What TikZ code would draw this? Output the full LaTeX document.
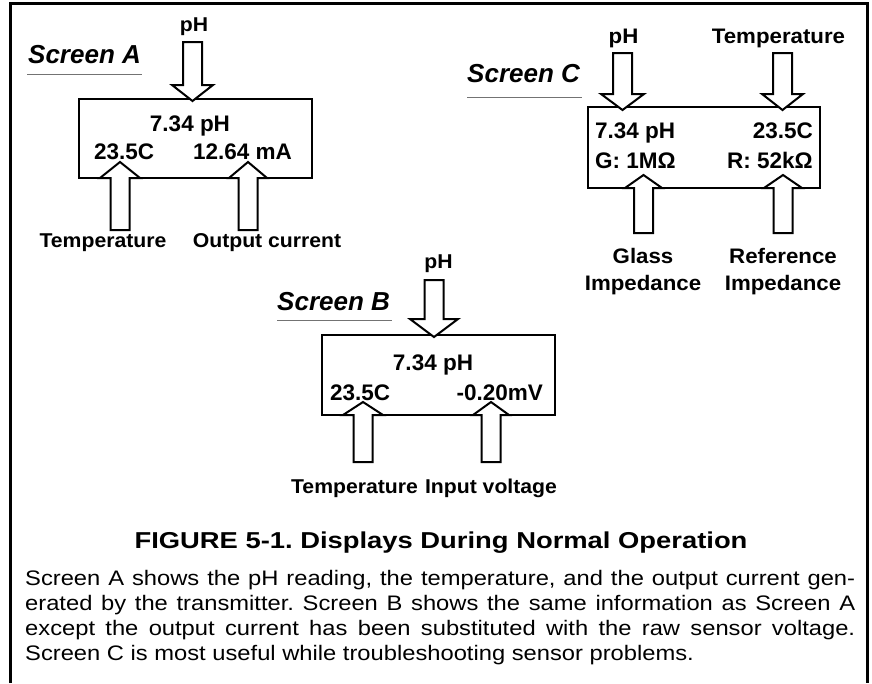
\documentclass[tikz,border=0pt]{standalone}
\usepackage{fontspec}
\setmainfont{Liberation Sans}
\newfontfamily\capfont{Liberation Sans}[FakeStretch=1.19]
\newfontfamily\bodyfont{Liberation Sans}[FakeStretch=1.13]
\newfontfamily\lblfont{Liberation Sans}[FakeStretch=1.06]
\usetikzlibrary{calc}
\frenchspacing
\tikzset{
  outerframe/.style={line width=3pt, line join=miter},
  screenbox/.style={draw, rectangle, line width=2.6pt, inner sep=0pt, fill=white},
  blk/.style={draw, fill=white, line width=2pt, line join=miter},
  lbl/.style={inner sep=0pt, font=\lblfont\fontsize{20}{24}\selectfont\bfseries},
  lblbig/.style={inner sep=0pt, font=\lblfont\fontsize{21}{25}\selectfont\bfseries},
  disp/.style={inner sep=0pt, font=\fontsize{22.5}{26}\selectfont\bfseries},
  scrtitle/.style={inner sep=0pt, font=\fontsize{26}{30}\selectfont\bfseries\itshape},
  uline/.style={line width=1pt, black!55},
  figcap/.style={inner sep=0pt, font=\capfont\fontsize{23}{27}\selectfont\bfseries},
  bodytext/.style={inner sep=0pt, font=\bodyfont\fontsize{21}{25}\selectfont},
}
% block arrow pointing down: tip, total length, head half width, head height
\newcommand{\blkdown}[4]{\draw[blk] (#1) -- ++(-#3,-#4) -- ++({#3-9.5},0) -- ++(0,{-(#2-#4)}) -- ++(19,0) -- ++(0,{#2-#4}) -- ++({#3-9.5},0) -- cycle;}
% block arrow pointing up
\newcommand{\blkup}[4]{\draw[blk] (#1) -- ++(-#3,#4) -- ++({#3-9.5},0) -- ++(0,{#2-#4}) -- ++(19,0) -- ++(0,{-(#2-#4)}) -- ++({#3-9.5},0) -- cycle;}
\begin{document}
\begin{tikzpicture}[x=1pt,y=-1pt]
\useasboundingbox (0,0) rectangle (872,683);
\fill[white] (0,0) rectangle (872,683);
\draw[outerframe] (10.5,683) -- (10.5,3.8) -- (867.5,3.8) -- (867.5,683);

% ---------- Screen A ----------
\node[scrtitle, anchor=base west] (scrA) at (28,63) {Screen A};
\draw[uline] (27,74) -- (142,74);
\node[screenbox, minimum width=233pt, minimum height=79pt] (boxA) at (195.5,138.5) {};
\node[lbl, anchor=base] (phA) at (194,31) {pH};
\node[lbl, anchor=base] (tempA) at (103,247) {Temperature};
\node[lbl, anchor=base] (outA) at (267,247) {Output current};
\node[disp, anchor=base] (dA1) at (190,131) {7.34 pH};
\node[disp, anchor=base west] (dA2) at (94,159) {23.5C};
\node[disp, anchor=base west] (dA3) at (193,159) {12.64 mA};
\coordinate (tA1) at (192.5,101);
\coordinate (tA2) at (120,162);
\coordinate (tA3) at (248,162);
\blkdown{tA1}{59}{20.5}{16}
\blkup{tA2}{68}{20}{16}
\blkup{tA3}{68}{19}{16}

% ---------- Screen C ----------
\node[scrtitle, anchor=base west] (scrC) at (467,82) {Screen C};
\draw[uline] (467,97) -- (582,97);
\node[screenbox, minimum width=232pt, minimum height=81pt] (boxC) at (704,147.5) {};
\node[lblbig, anchor=base] (phC) at (623.5,43) {pH};
\node[lblbig, anchor=base] (tempC) at (778.5,43) {Temperature};
\node[lblbig, anchor=base] (glC1) at (643,263) {Glass};
\node[lblbig, anchor=base] (glC2) at (643,290) {Impedance};
\node[lblbig, anchor=base] (refC1) at (783,263) {Reference};
\node[lblbig, anchor=base] (refC2) at (783,290) {Impedance};
\node[disp, anchor=base west] (dC1) at (595,138) {7.34 pH};
\node[disp, anchor=base east] (dC2) at (813,138) {23.5C};
\node[disp, anchor=base west] (dC3) at (595,168) {G: 1MΩ};
\node[disp, anchor=base east] (dC4) at (813,168) {R: 52kΩ};
\coordinate (tC1) at (622.5,110);
\coordinate (tC2) at (782.5,110);
\coordinate (tC3) at (643.5,175);
\coordinate (tC4) at (783,175);
\blkdown{tC1}{57}{21.5}{16}
\blkdown{tC2}{57}{20.5}{16}
\blkup{tC3}{58}{18.5}{13}
\blkup{tC4}{58}{19}{13}

% ---------- Screen B ----------
\node[scrtitle, anchor=base west] (scrB) at (277,310) {Screen B};
\draw[uline] (277,320) -- (392,320);
\node[screenbox, minimum width=233pt, minimum height=80pt] (boxB) at (438.5,375) {};
\node[lbl, anchor=base] (phB) at (438.5,268) {pH};
\node[lbl, anchor=base] (tempB) at (354.5,493) {Temperature};
\node[lbl, anchor=base] (inB) at (491,493) {Input voltage};
\node[disp, anchor=base] (dB1) at (433,370) {7.34 pH};
\node[disp, anchor=base west] (dB2) at (330,400) {23.5C};
\node[disp, anchor=base east] (dB3) at (543,400) {-0.20mV};
\coordinate (tB1) at (434,337);
\coordinate (tB2) at (363,402);
\coordinate (tB3) at (491,402);
\blkdown{tB1}{57}{24}{18}
\blkup{tB2}{60}{20}{13}
\blkup{tB3}{60}{18}{13}

% ---------- Caption ----------
\node[figcap, anchor=base] (cap) at (441,548) {FIGURE 5-1. Displays During Normal Operation};
\node[bodytext, anchor=base west] (l1) at (25,585) {\makebox[830pt][s]{Screen A shows the pH reading, the temperature, and the output current gen-}};
\node[bodytext, anchor=base west] (l2) at (25,610) {\makebox[830pt][s]{erated by the transmitter. Screen B shows the same information as Screen A}};
\node[bodytext, anchor=base west] (l3) at (25,635) {\makebox[830pt][s]{except the output current has been substituted with the raw sensor voltage.}};
\node[bodytext, anchor=base west] (l4) at (25,660) {Screen C is most useful while troubleshooting sensor problems.};
\end{tikzpicture}
\end{document}
